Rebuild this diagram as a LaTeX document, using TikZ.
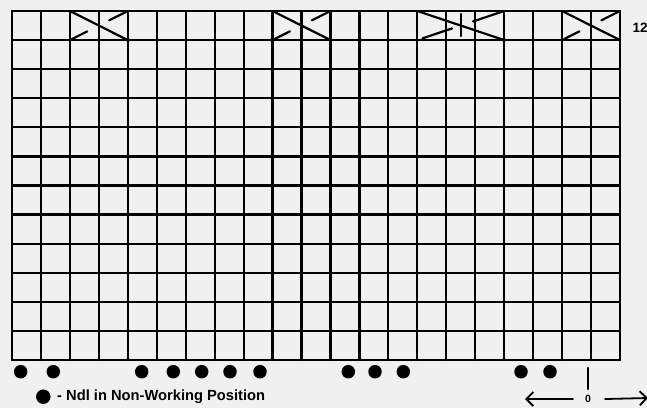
\documentclass[tikz,border=0pt]{standalone}
\usepackage{fontspec}
\setmainfont{Liberation Sans}
\usepackage{tikz}
\usetikzlibrary{calc,arrows.meta}
\definecolor{paper}{RGB}{240,240,240}

\begin{document}
\begin{tikzpicture}[x=1pt, y=-1pt, line cap=round, line join=round,
  gridline/.style={black, line width=2.2pt},
  cableline/.style={black, line width=2.2pt},
  nwdot/.style={circle, fill=black, inner sep=0pt, minimum size=13.5pt},
  arrowline/.style={-{Straight Barb[length=7pt,width=14pt]}, line width=1.8pt},
  lbl/.style={font=\bfseries\fontsize{13.5}{15}\selectfont, inner sep=0pt}]
  \fill[paper] (0,0) rectangle (647,408);
  \useasboundingbox (0,0) rectangle (647,408);
  % chart grid, 21 needles x 12 rows
  \foreach \i in {0,...,21}
    \draw[gridline] ({12+28.95*\i},11) -- ({12+28.95*\i},360);
  \foreach \j in {0,...,12}
    \draw[gridline] (12,{11+29.08*\j}) -- (620,{11+29.08*\j});
  % 1x1 cables in row 12
  \foreach \c in {2,9,19} {
    \coordinate (TL) at ({12+28.95*\c},11);
    \coordinate (TR) at ({12+28.95*(\c+2)},11);
    \coordinate (BL) at ({12+28.95*\c},40.08);
    \coordinate (BR) at ({12+28.95*(\c+2)},40.08);
    \draw[cableline] (TL) -- (BR);
    \draw[cableline] ($(BL)!0.03!(TR)$) -- ($(BL)!0.30!(TR)$);
    \draw[cableline] ($(BL)!0.68!(TR)$) -- ($(BL)!0.97!(TR)$);
  }
  % three-stitch cable
  \coordinate (TL3) at ({12+28.95*14},11);
  \coordinate (TR3) at ({12+28.95*17},11);
  \coordinate (BL3) at ({12+28.95*14},40.08);
  \coordinate (BR3) at ({12+28.95*17},40.08);
  \draw[cableline] (TL3) -- (BR3);
  \draw[cableline] ($(BL3)!0.06!(TR3)$) -- ($(BL3)!0.40!(TR3)$);
  \draw[cableline] ($(BL3)!0.64!(TR3)$) -- ($(BL3)!0.99!(TR3)$);
  \draw[cableline] (460.7,14) -- (460.7,36);
  % needles out of work
  \foreach \x [count=\n] in {20.7,53.3,141.7,173.3,201.7,230,260,348.3,375,403.3,521,550}
    \node[nwdot] (ndl\n) at (\x,371.7) {};
  \node[lbl] (rownum) at (640,28) {12};
  \node[lbl, font=\bfseries\fontsize{10.5}{12}\selectfont] (zero) at (588,399) {0};
  \coordinate (ticktop) at (588,368);
  \draw[line width=2.6pt] (ticktop) -- ([yshift=6pt]zero.north);
  \coordinate (leftend) at (525,399);
  \coordinate (rightend) at (648,398);
  \draw[arrowline] ([xshift=-12pt]zero.west) -- (leftend);
  \draw[arrowline] ([xshift=14pt]zero.east) -- (rightend);
  % key
  \node[nwdot, minimum size=14.5pt] (keydot) at (43.3,396.7) {};
  \node[lbl, anchor=west, font=\bfseries\fontsize{14.7}{16}\selectfont] (keytext) at (57,397) {- Ndl in Non-Working Position};
\end{tikzpicture}
\end{document}
